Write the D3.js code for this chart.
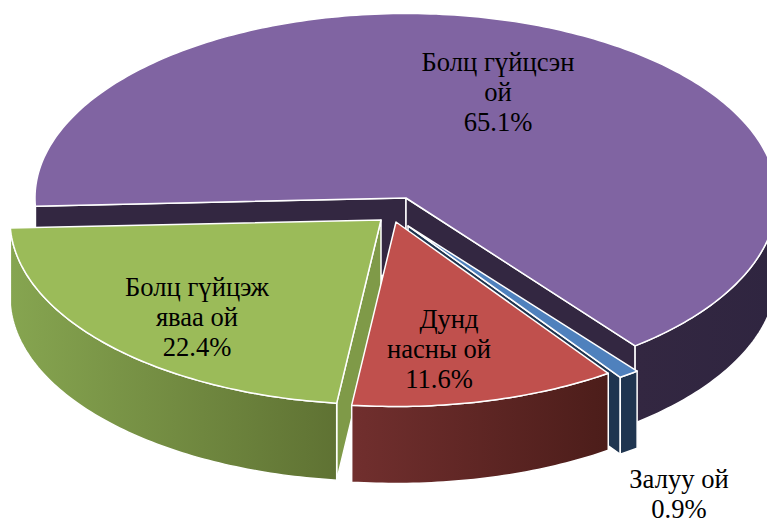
<!DOCTYPE html>
<html lang="mn">

<head>
    <meta charset="UTF-8">
    <title>Pie 3D</title>
    <script src="https://d3js.org/d3.v7.min.js"></script>
    <style>
        html, body { margin: 0; padding: 0; background: #fff; }
        svg { display: block; }
        text { font-family: "Liberation Serif", serif; font-size: 26.6px; fill: #000; }
    </style>
</head>

<body>
    <svg width="767" height="519" viewBox="0 0 767 519"></svg>

    <script>
        // values, order follows the pie clockwise
        const labelLines = [["Болц гүйцсэн", "ой"], ["Залуу ой"], ["Дунд", "насны ой"], ["Болц гүйцэж", "яваа ой"]];
        const values = [65.1, 0.9, 11.6, 22.4];

        // look of each slice: top, cut wall, rim gradient
        const topColors = ["#8064a2", "#4f81bd", "#c0504d", "#9bbb59"];
        const wallColors = ["#332741", "#1f3550", "#4d1d1b", "#7f9a48"];
        const rimFrom = ["#332741", "#1f3550", "#712f2e", "#86a550"];
        const rimTo = ["#2f2540", "#1f3550", "#4c1d1a", "#5f7233"];

        // slice offsets from the pie centre and label anchors
        const offsets = [[0, 0], [2, 28], [-10, 24], [-25, 22]];
        const labelPos = [[498, 71], [679, 488], [439, 328], [197, 296]];
        const firstLineDx = [0, 0, 10, 0];
        const frontRy = [188, 184.5, 184.5, 184.5]; // near half of the purple slice is a bit deeper
        const cx = 406, cy = 198, rx = 371, ry = 184.5, depth = 77;
        const startDeg = 267.5;
        const lineGap = 30;

        const svg = d3.select("svg");
        const defs = svg.append("defs");
        const line = d3.line();

        const arcs = d3.pie().sort(null)
            .startAngle(startDeg * Math.PI / 180)
            .endAngle((startDeg + 360) * Math.PI / 180)(values);

        // d3 angle -> screen point on the tilted circle
        function project(a, off, dy, i) {
            const c = Math.cos(a);
            return [cx + off[0] + rx * Math.sin(a), cy + off[1] + dy - (c < 0 ? frontRy[i] : ry) * c];
        }

        function arcPoints(a0, a1, off, dy, i) {
            const n = Math.max(2, Math.ceil((a1 - a0) * 60));
            return d3.range(n + 1).map(k => project(a0 + (a1 - a0) * k / n, off, dy, i));
        }

        arcs.forEach(function (d, i) {
            const off = offsets[i];
            const g = svg.append("g").attr("class", "slice");
            const apex = [cx + off[0], cy + off[1]];
            const apexLow = [apex[0], apex[1] + depth];

            // only the cut faces turned to the viewer are drawn
            [[d.startAngle, -1], [d.endAngle, 1]].forEach(function (s) {
                if (Math.sin(s[0]) * s[1] <= 0) return;
                const p = project(s[0], off, 0, i), q = project(s[0], off, depth, i);
                g.append("path")
                    .attr("d", line([apex, p, q, apexLow]) + "Z")
                    .attr("fill", wallColors[i])
                    .attr("stroke", "#fff").attr("stroke-width", 1.5).attr("stroke-linejoin", "round");
            });

            // rim: the parts of the arc on the near half of the ellipse
            const twoPi = 2 * Math.PI;
            const near = [[Math.PI / 2, 3 * Math.PI / 2], [Math.PI / 2 + twoPi, 3 * Math.PI / 2 + twoPi]];
            near.forEach(function (r, k) {
                const a0 = Math.max(d.startAngle, r[0]), a1 = Math.min(d.endAngle, r[1]);
                if (a1 <= a0) return;
                const upper = arcPoints(a0, a1, off, 0, i);
                const lower = arcPoints(a0, a1, off, depth, i).reverse();
                const xs = upper.map(p => p[0]);
                const id = "rim" + i + "_" + k;
                const grad = defs.append("linearGradient").attr("id", id)
                    .attr("gradientUnits", "userSpaceOnUse")
                    .attr("x1", d3.min(xs)).attr("x2", d3.max(xs)).attr("y1", 0).attr("y2", 0);
                grad.append("stop").attr("offset", 0).attr("stop-color", rimFrom[i]);
                grad.append("stop").attr("offset", 1).attr("stop-color", rimTo[i]);
                g.append("path")
                    .attr("d", line(upper.concat(lower)) + "Z")
                    .attr("fill", "url(#" + id + ")")
                    .attr("stroke", "#fff").attr("stroke-width", 1.5).attr("stroke-linejoin", "round");
            });

            g.append("path")
                .attr("d", line([apex].concat(arcPoints(d.startAngle, d.endAngle, off, 0, i))) + "Z")
                .attr("fill", topColors[i])
                .attr("stroke", "#fff").attr("stroke-width", 1.5).attr("stroke-linejoin", "round");
        });

        // pie order is purple, blue, red, green but green has to sit under red
        const slices = svg.selectAll("g.slice").nodes();
        slices[3].parentNode.insertBefore(slices[3], slices[1]);

        values.forEach(function (v, i) {
            const t = svg.append("text").attr("text-anchor", "middle");
            labelLines[i].concat([v.toFixed(1) + "%"]).forEach(function (s, j) {
                t.append("tspan")
                    .attr("x", labelPos[i][0] + (j === 0 ? firstLineDx[i] : 0))
                    .attr("y", labelPos[i][1] + j * lineGap)
                    .text(s);
            });
        });
    </script>
</body>

</html>
